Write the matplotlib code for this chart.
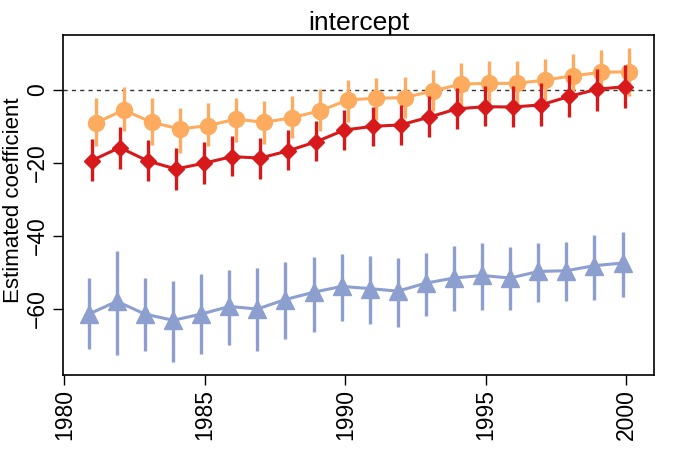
import numpy as np
import matplotlib
matplotlib.use("Agg")
import matplotlib.pyplot as plt

plt.rcParams['font.family'] = ['Liberation Sans', 'DejaVu Sans']

years = np.arange(1981, 2001)

# orange series (circles)
orange_est = [-9.1, -5.5, -8.9, -10.7, -9.8, -8.0, -8.9, -7.6, -5.7, -2.7,
              -2.3, -2.1, -0.3, 1.6, 1.8, 1.8, 2.7, 3.9, 4.8, 5.0]
orange_hi = [-2.3, 0.7, -2.3, -5.0, -3.5, -2.1, -3.0, -1.8, 0.2, 2.7,
             3.4, 3.6, 5.5, 7.3, 7.8, 7.8, 8.5, 9.8, 11.0, 11.4]
orange_lo = [-15.5, -11.4, -15.1, -17.3, -15.5, -14.2, -14.9, -13.2, -11.4, -8.7,
             -8.2, -7.8, -5.9, -4.1, -3.8, -3.7, -2.7, -1.8, -0.9, -1.8]

# red series (diamonds)
red_est = [-19.4, -15.8, -19.5, -21.7, -20.1, -18.3, -18.7, -16.7, -14.2, -11.0,
           -10.0, -9.6, -7.5, -5.2, -4.6, -4.7, -4.1, -1.8, 0.2, 0.9]
red_hi = [-13.4, -10.2, -13.7, -16.0, -14.4, -12.6, -13.2, -11.1, -8.5, -5.5,
          -4.6, -4.1, -1.8, 0.5, 1.1, 1.0, 1.8, 4.1, 5.7, 6.8]
red_lo = [-25.1, -21.6, -25.1, -27.4, -25.8, -23.7, -24.4, -22.1, -19.6, -16.4,
          -15.5, -15.1, -13.0, -10.8, -10.0, -10.3, -9.9, -7.5, -5.8, -5.0]

# blue series (triangles)
blue_est = [-61.5, -58.0, -61.5, -63.2, -61.5, -59.4, -60.1, -57.5, -55.5, -53.9,
            -54.5, -55.2, -53.0, -51.6, -50.9, -51.6, -49.8, -49.6, -48.2, -47.5]
blue_hi = [-51.6, -44.3, -51.6, -52.3, -50.4, -49.3, -48.8, -47.3, -45.7, -45.0,
           -45.5, -46.1, -44.7, -42.9, -42.0, -43.2, -42.0, -41.7, -39.7, -39.0]
blue_lo = [-71.2, -72.6, -71.7, -74.7, -72.4, -69.9, -71.7, -68.2, -66.5, -63.5,
           -64.2, -65.1, -62.1, -60.7, -60.4, -60.4, -58.2, -58.0, -57.5, -56.9]

fig = plt.figure(figsize=(6.75, 4.5), dpi=100)
ax = fig.add_axes([0.0933, 0.1667, 0.876, 0.755])

series = [
    (blue_est, blue_lo, blue_hi, '#8c9fcf', '^', 12.5, -0.13),
    (orange_est, orange_lo, orange_hi, '#fcab5f', 'o', 11.5, 0.11),
    (red_est, red_lo, red_hi, '#d7191c', 'D', 8, -0.03),
]
for est, lo, hi, col, mk, ms, off in series:
    x = years + off
    ax.vlines(x, lo, hi, color=col, lw=2.4)
    ax.plot(x, est, color=col, lw=2.2, marker=mk, ms=ms, mec=col, mfc=col)

ax.axhline(0, color='#333333', lw=1, ls=(0, (3, 3)), zorder=0)

ax.set_xlim(1979.95, 2001.0)
ax.set_ylim(-78.2, 15.0)
ax.set_xticks([1980, 1985, 1990, 1995, 2000])
ax.set_yticks([-60, -40, -20, 0])
ax.set_yticklabels(['\u221260', '\u221240', '\u221220', '0'], rotation=90, va='center')
ax.set_xticklabels(['1980', '1985', '1990', '1995', '2000'], rotation=90)
ax.tick_params(direction='out', length=7, width=1, labelsize=16.5, pad=3)
for s in ax.spines.values():
    s.set_linewidth(1.2)
fig.text(14 / 675, 1 - 200 / 450, 'Estimated coefficient', fontsize=16,
         rotation=90, ha='center', va='center')
ax.set_title('intercept', fontsize=19, pad=4)

fig.savefig('out.png', dpi=100)
